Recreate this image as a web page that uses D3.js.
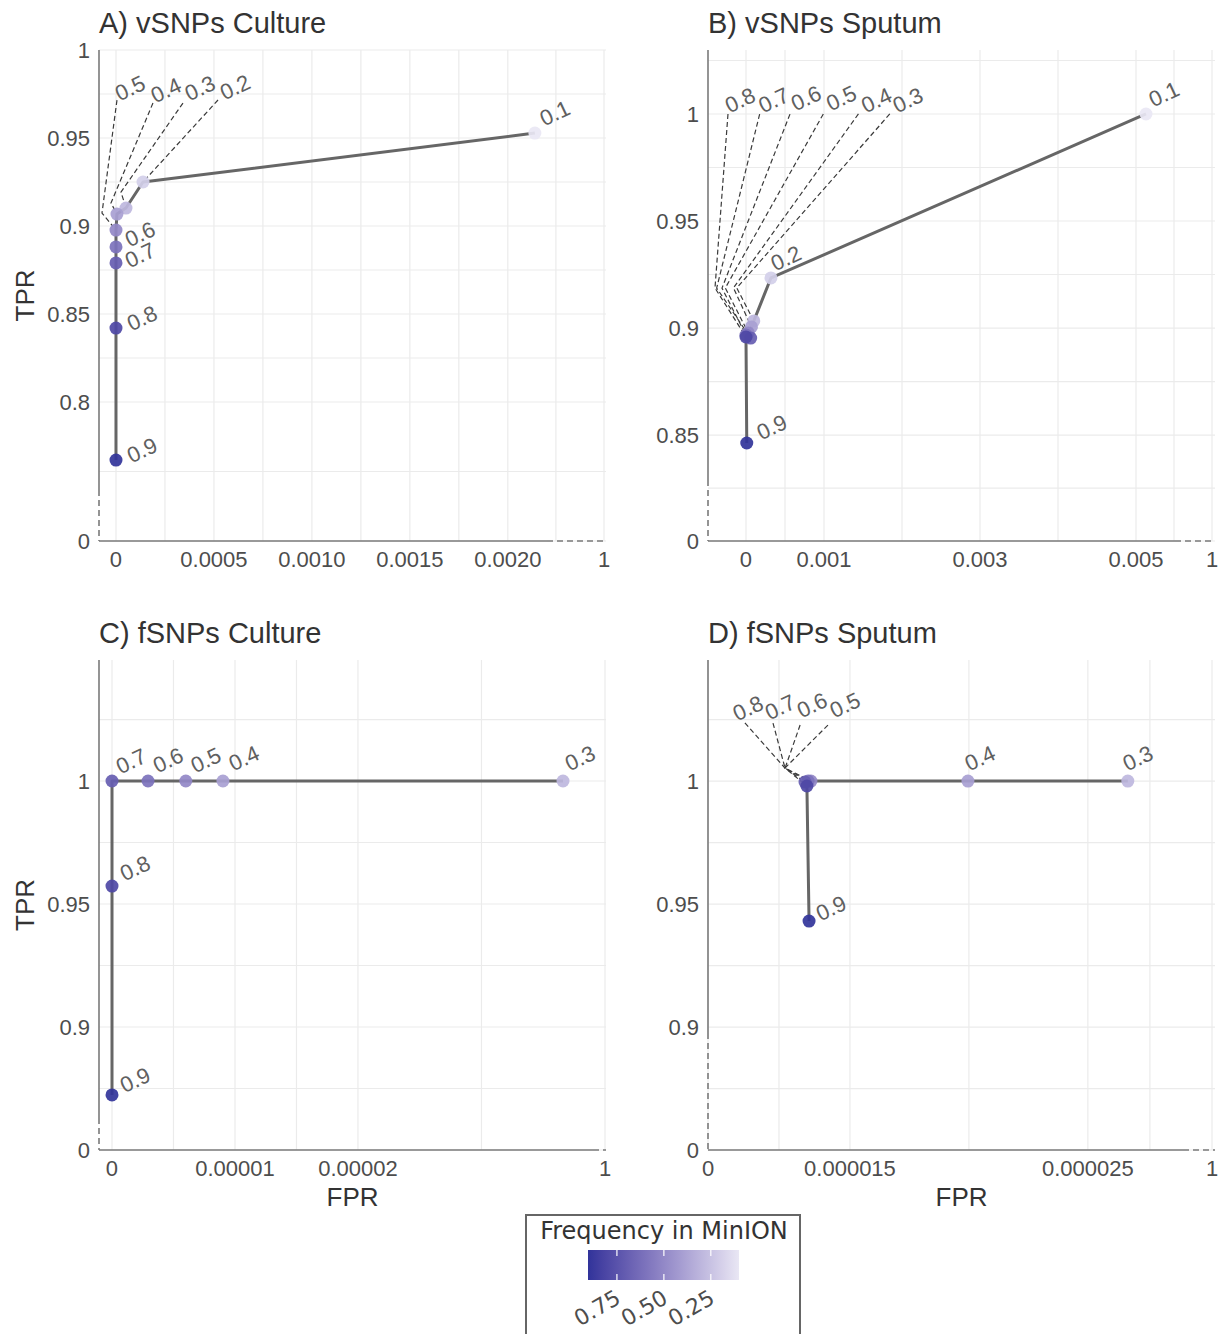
<!DOCTYPE html>
<html>
<head>
<meta charset="utf-8">
<script src="https://cdn.jsdelivr.net/npm/d3@7"></script>
<style>
  body { margin: 0; background: #fff; }
  svg { font-family: "Liberation Sans", Arial, sans-serif; }
</style>
</head>
<body>
<svg id="chart" width="1222" height="1334"></svg>
<script>
// thresholds (frequency in MinION)
const thrVC = [0.1, 0.2, 0.3, 0.4, 0.5, 0.6, 0.7, 0.8, 0.9];
const thrVS = [0.1, 0.2, 0.3, 0.4, 0.5, 0.6, 0.7, 0.8, 0.9];
const thrFC = [0.3, 0.4, 0.5, 0.6, 0.7, 0.8, 0.9];
const thrFS = [0.3, 0.4, 0.5, 0.6, 0.7, 0.8, 0.9];

// A) vSNPs Culture
const fprVC = [0.002138, 0.000138, 0.000051, 0.000005, 0, 0, 0, 0, 0];
const tprVC = [0.9528, 0.925, 0.9102, 0.9068, 0.8977, 0.8881, 0.879, 0.842, 0.767];
// B) vSNPs Sputum
const fprVS = [0.005128, 0.00032, 0.0001, 0.00007, 0.00003, 0, 0.00006, 0, 0.00001];
const tprVS = [1.0, 0.9234, 0.9033, 0.9005, 0.8977, 0.8967, 0.8953, 0.8958, 0.8463];
// C) fSNPs Culture
const fprFC = [0.00003667, 0.00000902, 0.0000060, 0.00000293, 0, 0, 0];
const tprFC = [1, 1, 1, 1, 1, 0.9573, 0.8724];
// D) fSNPs Sputum
const fprFS = [0.00002668, 0.00001996, 0.00001336, 0.00001324, 0.00001311, 0.00001319, 0.00001328];
const tprFS = [1, 1, 1, 1, 0.9996, 0.998, 0.9431];

// axis ticks
const xTicksA = [0, 0.0005, 0.001, 0.0015, 0.002, 1];
const xLabelsA = ["0", "0.0005", "0.0010", "0.0015", "0.0020", "1"];
const yTicksA = [0, 0.8, 0.85, 0.9, 0.95, 1];
const yLabelsA = ["0", "0.8", "0.85", "0.9", "0.95", "1"];
const xTicksB = [0, 0.001, 0.003, 0.005, 1];
const xLabelsB = ["0", "0.001", "0.003", "0.005", "1"];
const yTicksB = [0, 0.85, 0.9, 0.95, 1];
const yLabelsB = ["0", "0.85", "0.9", "0.95", "1"];
const xTicksC = [0, 0.00001, 0.00002, 1];
const xLabelsC = ["0", "0.00001", "0.00002", "1"];
const yTicksC = [0, 0.9, 0.95, 1];
const yLabelsC = ["0", "0.9", "0.95", "1"];
const xTicksD = [0, 0.000015, 0.000025, 1];
const xLabelsD = ["0", "0.000015", "0.000025", "1"];
const yTicksD = [0, 0.9, 0.95, 1];
const yLabelsD = ["0", "0.9", "0.95", "1"];

// colour legend
const legendTicks = [0.75, 0.5, 0.25];
const legendLabels = ["0.75", "0.50", "0.25"];
const colorDomain = [0.1, 0.9];

const color = d3.scaleLinear().domain(colorDomain)
  .range(["#e9e7f4", "#32349a"]).interpolate(d3.interpolateLab);

// label placement (pixel offsets from the point, like ggrepel output)
const labA = [
  { at: [20, -20] },
  { at: [92, -95], lead: [[75, -82]] },
  { at: [74, -120], lead: [[57, -105], [-5, -16]] },
  { at: [49, -124], lead: [[36, -111], [-6, -11]] },
  { at: [14, -142], lead: [[1, -130], [-14, -17]] },
  { at: [24, -13] }, { at: [24, -8] }, { at: [26, -10] }, { at: [26, -10] }
];
const labB = [
  { at: [18, -20] },
  { at: [15, -20] },
  { at: [154, -221], lead: [[136, -207], [-17, -33]] },
  { at: [125, -227], lead: [[107, -213], [-18, -39]] },
  { at: [93, -235], lead: [[75, -219], [-23, -45]] },
  { at: [60, -237], lead: [[44, -221], [-24, -47]] },
  { at: [23, -238], lead: [[9, -224], [-34, -50]] },
  { at: [-6, -237], lead: [[-18, -223], [-31, -49]] },
  { at: [25, -16] }
];
const labC = [
  { at: [17, -23] }, { at: [21, -23] }, { at: [20, -21] }, { at: [20, -21] },
  { at: [19, -20] }, { at: [23, -18] }, { at: [23, -15] }
];
const labD = [
  { at: [10, -23] }, { at: [12, -23] },
  { at: [34, -76], lead: [[17, -56], [-26, -13]] },
  { at: [4, -76], lead: [[-8, -56], [-23, -13]] },
  { at: [-25, -75], lead: [[-32, -59], [-20, -14]] },
  { at: [-59, -78], lead: [[-62, -63], [-22, -18]] },
  { at: [22, -13] }
];

const panels = [
  { title: "A) vSNPs Culture", thr: thrVC, fpr: fprVC, tpr: tprVC, lab: labA,
    box: [99, 50, 606, 541],
    xDom: [-0.0000867, 0.0022, 1], xRng: [99, 547, 604], xBreak: 0.0022,
    yDom: [0, 0.75, 1], yRng: [541, 490, 50], yBreak: 0.75,
    xT: xTicksA, xL: xLabelsA, yT: yTicksA, yL: yLabelsA, yExtra: [],
    yTitle: "TPR", xTitle: null },
  { title: "B) vSNPs Sputum", thr: thrVS, fpr: fprVS, tpr: tprVS, lab: labB,
    box: [708, 50, 1215, 541],
    xDom: [-0.000487, 0.0055, 1], xRng: [708, 1175, 1212], xBreak: 0.0055,
    yDom: [0, 0.829, 1.0299], yRng: [541, 480, 50], yBreak: 0.829,
    xT: xTicksB, xL: xLabelsB, yT: yTicksB, yL: yLabelsB, yExtra: [1.025],
    yTitle: null, xTitle: null },
  { title: "C) fSNPs Culture", thr: thrFC, fpr: fprFC, tpr: tprFC, lab: labC,
    box: [99, 660, 606, 1150],
    xDom: [-0.000001057, 0.00003911, 1], xRng: [99, 593, 605], xBreak: 0.00003911,
    yDom: [0, 0.863, 1.0492], yRng: [1150, 1118, 660], yBreak: 0.863,
    xT: xTicksC, xL: xLabelsC, yT: yTicksC, yL: yLabelsC, yExtra: [1.025],
    yTitle: "TPR", xTitle: "FPR" },
  { title: "D) fSNPs Sputum", thr: thrFS, fpr: fprFS, tpr: tprFS, lab: labD,
    box: [708, 660, 1215, 1150],
    xDom: [0, 0.000012, 0.000029, 1], xRng: [708, 778.6, 1183, 1212], xBreak: 0.000029,
    yDom: [0, 0.8976, 1.0492], yRng: [1150, 1033, 660], yBreak: 0.8976,
    xT: xTicksD, xL: xLabelsD, yT: yTicksD, yL: yLabelsD, yExtra: [1.025],
    yTitle: null, xTitle: "FPR" }
];

const svg = d3.select("#chart");
const gridCol = "#ebebeb";
const axisCol = "#7a7a7a";

function midpoints(px) {
  const s = px.slice().sort((a, b) => a - b);
  const out = [];
  for (let i = 0; i < s.length - 1; i++) out.push((s[i] + s[i + 1]) / 2);
  return out;
}

panels.forEach(p => {
  const [x0, y0, x1, y1] = p.box;
  const x = d3.scaleLinear().domain(p.xDom).range(p.xRng);
  const y = d3.scaleLinear().domain(p.yDom).range(p.yRng);
  const g = svg.append("g");

  // grid: majors at breaks, minors halfway in (transformed) pixel space
  const xMaj = p.xT.map(x), yMaj = p.yT.map(y);
  const xMin = midpoints(xMaj);
  const yMin = midpoints(yMaj).concat(p.yExtra.map(y));
  g.selectAll(".vg").data(xMaj.concat(xMin)).enter().append("line")
    .attr("x1", d => d).attr("x2", d => d).attr("y1", y0).attr("y2", y1)
    .attr("stroke", gridCol).attr("stroke-width", 1.2);
  g.selectAll(".hg").data(yMaj.concat(yMin)).enter().append("line")
    .attr("x1", x0).attr("x2", x1).attr("y1", d => d).attr("y2", d => d)
    .attr("stroke", gridCol).attr("stroke-width", 1.2);

  // axis lines, dashed over the squished ranges
  const xb = x(p.xBreak), yb = y(p.yBreak);
  g.append("line").attr("x1", x0).attr("x2", xb).attr("y1", y1).attr("y2", y1)
    .attr("stroke", axisCol).attr("stroke-width", 1.6);
  g.append("line").attr("x1", xb).attr("x2", x1).attr("y1", y1).attr("y2", y1)
    .attr("stroke", axisCol).attr("stroke-width", 1.6).attr("stroke-dasharray", "6,4");
  g.append("line").attr("x1", x0).attr("x2", x0).attr("y1", y0).attr("y2", yb)
    .attr("stroke", axisCol).attr("stroke-width", 1.6);
  g.append("line").attr("x1", x0).attr("x2", x0).attr("y1", yb).attr("y2", y1)
    .attr("stroke", axisCol).attr("stroke-width", 1.6).attr("stroke-dasharray", "6,4");

  // tick labels
  g.selectAll(".xl").data(p.xT).enter().append("text")
    .attr("x", d => x(d)).attr("y", y1 + 26)
    .attr("text-anchor", "middle").attr("font-size", 22).attr("fill", "#4d4d4d")
    .text((d, i) => p.xL[i]);
  g.selectAll(".yl").data(p.yT).enter().append("text")
    .attr("x", x0 - 9).attr("y", d => y(d)).attr("dy", "0.35em")
    .attr("text-anchor", "end").attr("font-size", 22).attr("fill", "#4d4d4d")
    .text((d, i) => p.yL[i]);

  // titles
  g.append("text").attr("x", x0).attr("y", y0 - 17)
    .attr("font-size", 29).attr("fill", "#333").text(p.title);
  if (p.yTitle) {
    g.append("text").attr("transform", `translate(25,${(y0 + y1) / 2}) rotate(-90)`)
      .attr("text-anchor", "middle").attr("dy", "0.35em")
      .attr("font-size", 26).attr("fill", "#333").text(p.yTitle);
  }
  if (p.xTitle) {
    g.append("text").attr("x", (x0 + x1) / 2).attr("y", y1 + 56)
      .attr("text-anchor", "middle").attr("font-size", 26).attr("fill", "#333").text(p.xTitle);
  }

  const pts = p.thr.map((t, i) => ({ t: t, px: x(p.fpr[i]), py: y(p.tpr[i]), lab: p.lab[i] }));

  // ROC path
  g.append("path")
    .attr("d", d3.line().x(d => d.px).y(d => d.py)(pts))
    .attr("fill", "none").attr("stroke", "#666").attr("stroke-width", 3)
    .attr("stroke-linejoin", "round");

  // leader segments
  pts.filter(d => d.lab.lead).forEach(d => {
    const verts = d.lab.lead.map(o => [d.px + o[0], d.py + o[1]]);
    const last = verts[verts.length - 1];
    const dx = d.px - last[0], dy = d.py - last[1];
    const len = Math.hypot(dx, dy), k = Math.max(0, (len - 5) / len);
    verts.push([last[0] + dx * k, last[1] + dy * k]);
    g.append("path").attr("d", d3.line()(verts))
      .attr("fill", "none").attr("stroke", "#3a3a3a").attr("stroke-width", 1.2)
      .attr("stroke-dasharray", "5,3");
  });

  // points
  g.selectAll(".pt").data(pts).enter().append("circle")
    .attr("cx", d => d.px).attr("cy", d => d.py).attr("r", 6.5)
    .attr("fill", d => color(d.t)).attr("fill-opacity", 0.92);

  // threshold labels
  g.selectAll(".lb").data(pts).enter().append("text")
    .attr("transform", d => `translate(${d.px + d.lab.at[0]},${d.py + d.lab.at[1]}) rotate(-25)`)
    .attr("text-anchor", "middle").attr("dy", "0.35em")
    .attr("font-size", 22).attr("fill", "#606060")
    .text(d => String(d.t));
});

// legend
const lg = svg.append("g").style("font-family", "'DejaVu Sans', sans-serif");
lg.append("rect").attr("x", 526).attr("y", 1215).attr("width", 274).attr("height", 125)
  .attr("fill", "#fff").attr("stroke", "#666").attr("stroke-width", 2);
lg.append("text").attr("x", 664).attr("y", 1239).attr("text-anchor", "middle")
  .attr("font-size", 24).attr("fill", "#333")
  .text("Frequency in MinION");

const lx = d3.scaleLinear().domain([0.904, 0.1]).range([588, 739]);
const grad = svg.append("defs").append("linearGradient").attr("id", "lgGrad")
  .attr("x1", "0%").attr("x2", "100%");
d3.range(0, 1.0001, 0.1).forEach(f => {
  grad.append("stop").attr("offset", f * 100 + "%").attr("stop-color", color(0.904 - f * 0.804));
});
lg.append("rect").attr("x", lx(0.904)).attr("y", 1250)
  .attr("width", lx(0.1) - lx(0.904)).attr("height", 30).attr("fill", "url(#lgGrad)");
legendTicks.forEach(v => {
  [[1250, 1256], [1274, 1280]].forEach(s => {
    lg.append("line").attr("x1", lx(v)).attr("x2", lx(v)).attr("y1", s[0]).attr("y2", s[1])
      .attr("stroke", "#fff").attr("stroke-width", 1.2);
  });
});
lg.selectAll(".lt").data(legendTicks).enter().append("text")
  .attr("transform", d => `translate(${lx(d) - 3},${1288}) rotate(-30)`)
  .attr("text-anchor", "end").attr("dy", "0.75em")
  .attr("font-size", 22).attr("fill", "#4d4d4d")
  .text((d, i) => legendLabels[i]);
</script>
</body>
</html>
